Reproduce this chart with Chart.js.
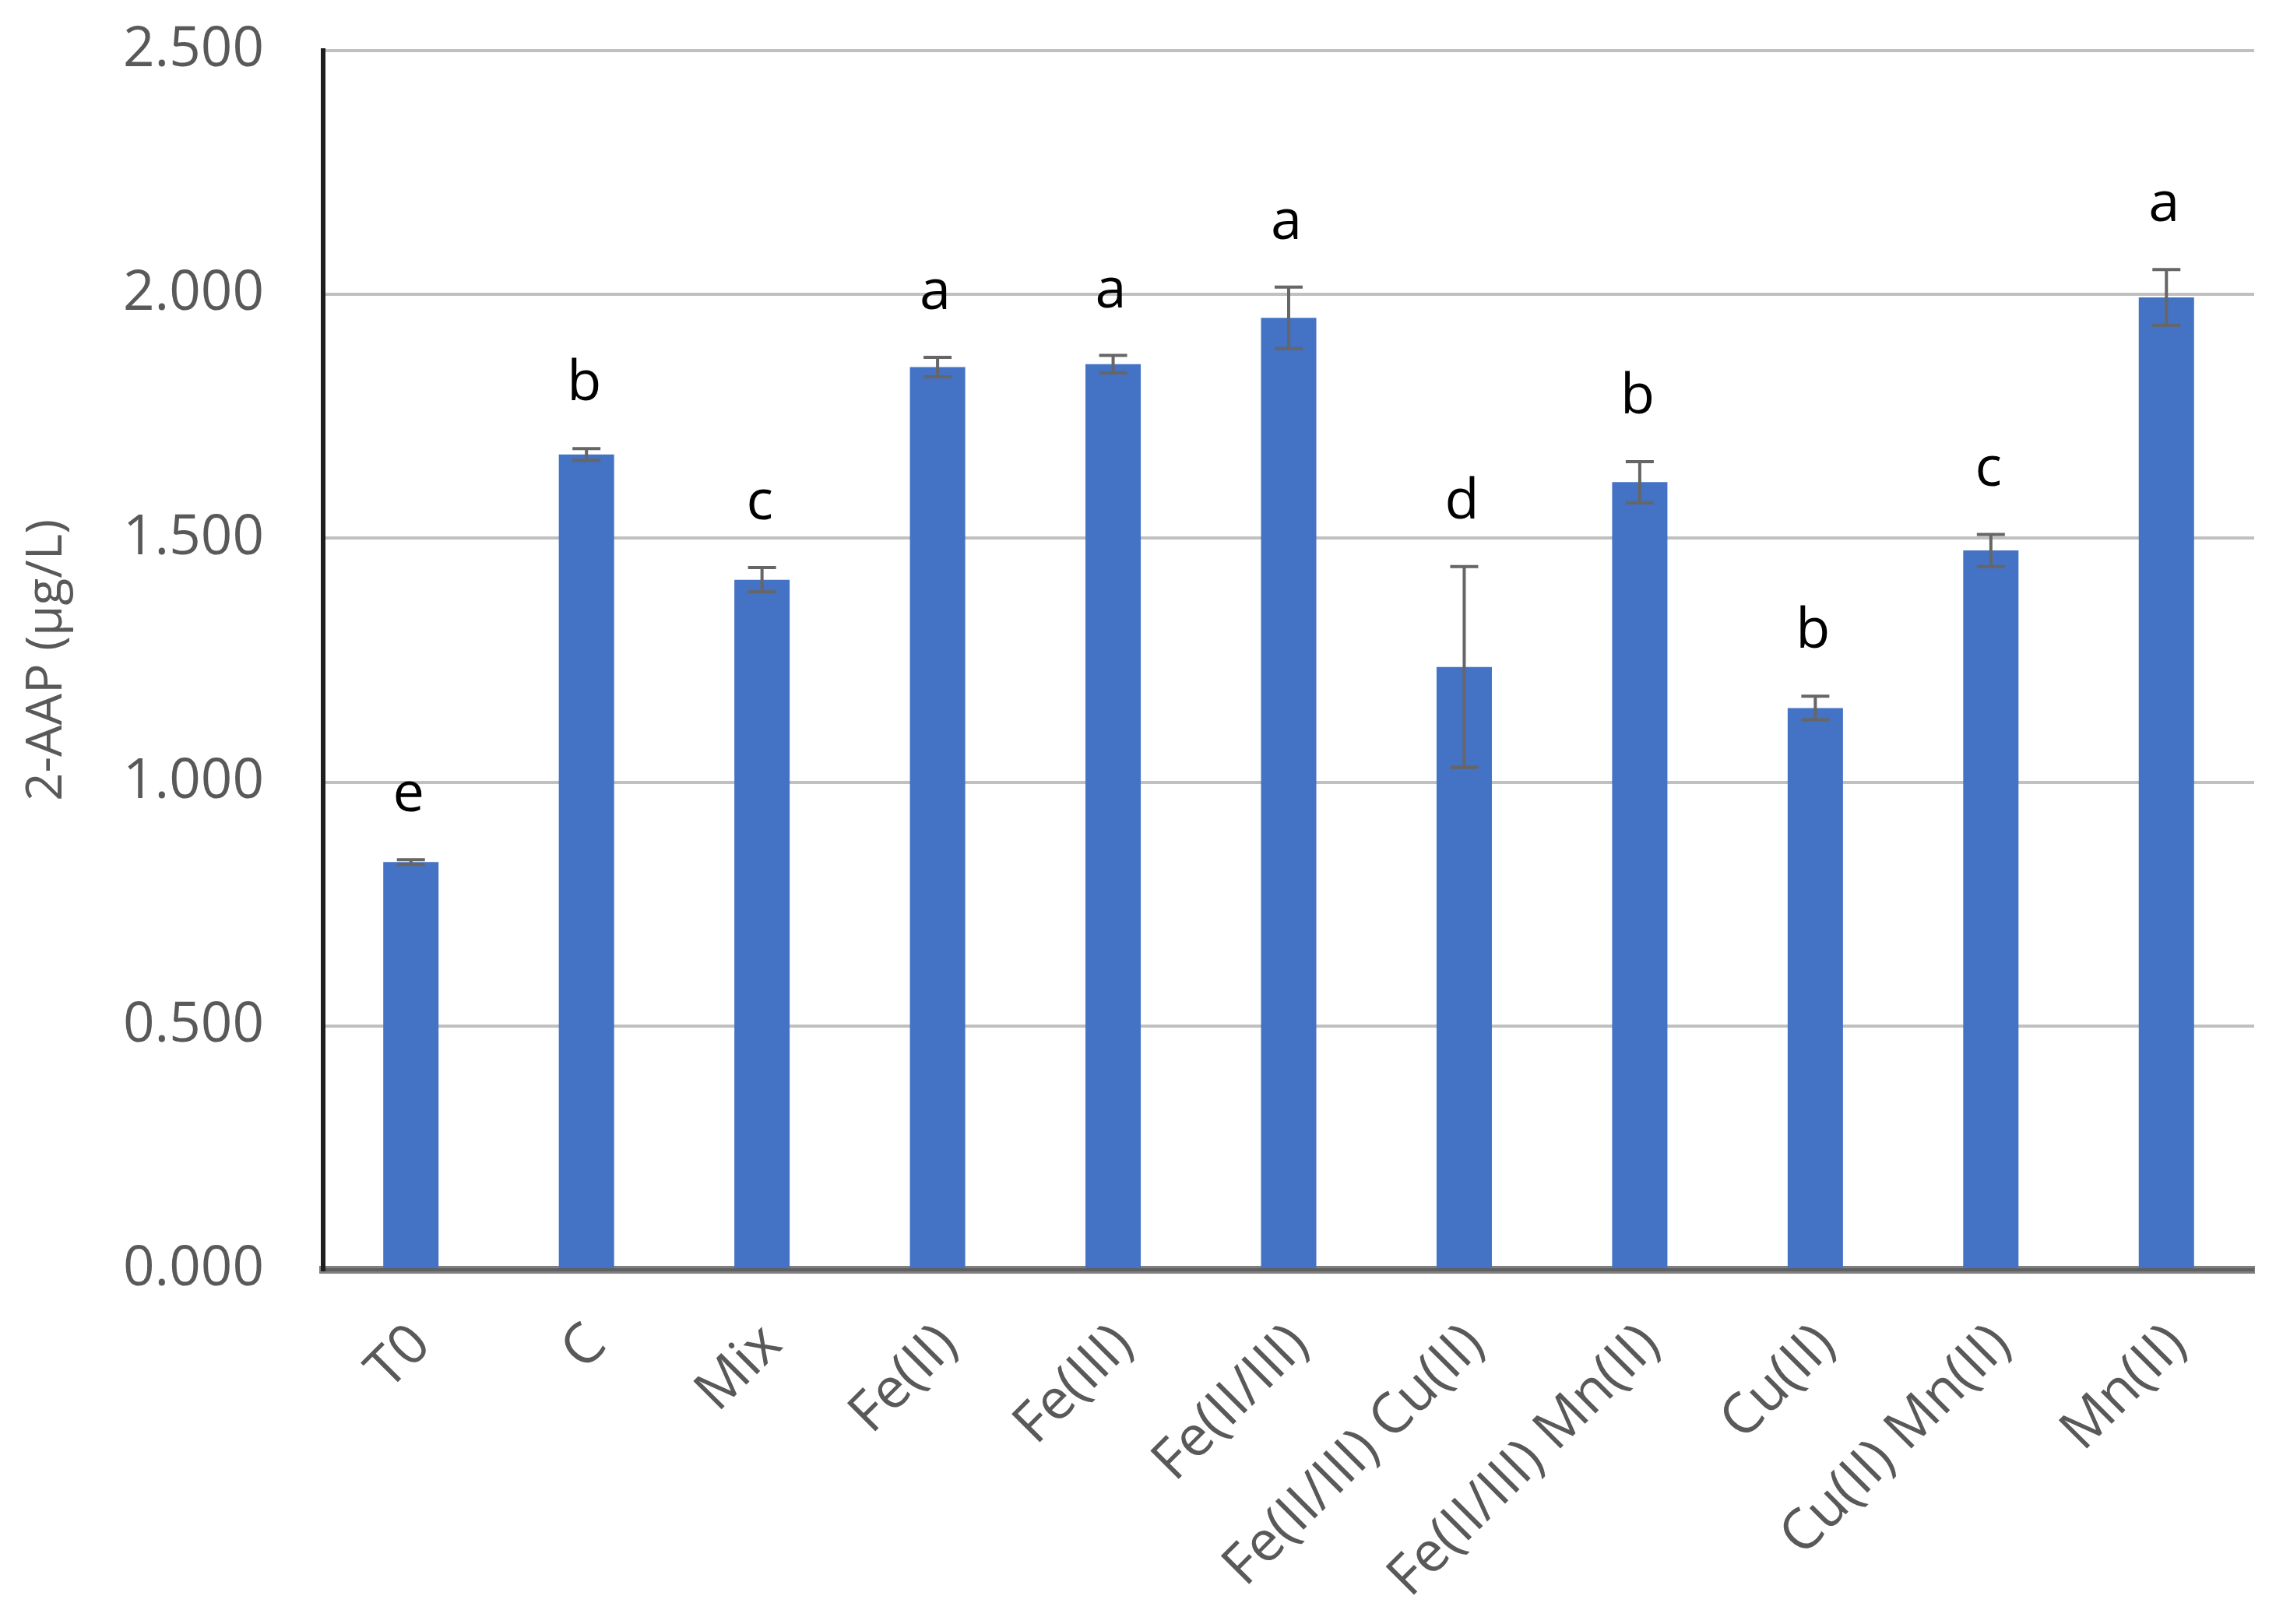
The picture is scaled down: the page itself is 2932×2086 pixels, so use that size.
<!DOCTYPE html>
<html>
<head>
<meta charset="utf-8">
<script src="https://cdn.jsdelivr.net/npm/chart.js@4.4.1/dist/chart.umd.min.js"></script>
<style>
  html, body { margin: 0; padding: 0; background: #ffffff; }
  #wrap { width: 2932px; height: 2086px; }
</style>
</head>
<body>
<div id="wrap"><canvas id="c" width="2932" height="2086"></canvas></div>
<script>
// ---- data ----
const categories = ["T0", "C", "Mix", "Fe(II)", "Fe(III)", "Fe(II/III)", "Fe(II/III) Cu(II)", "Fe(II/III) Mn(II)", "Cu(II)", "Cu(II) Mn(II)", "Mn(II)"];
const values = [0.836, 1.672, 1.415, 1.851, 1.857, 1.952, 1.236, 1.615, 1.152, 1.475, 1.994];
const errors = [0.005, 0.012, 0.025, 0.020, 0.018, 0.063, 0.206, 0.042, 0.024, 0.033, 0.057];
const letters = ["e", "b", "c", "a", "a", "a", "d", "b", "b", "c", "a"];
const yTicks = [0, 0.5, 1.0, 1.5, 2.0, 2.5];
const yTitle = "2-AAP (µg/L)";

const FONT = "'Open Sans', 'Noto Sans', sans-serif";

const errorBarsAndLetters = {
  id: 'errorBarsAndLetters',
  afterDatasetsDraw(chart) {
    const ctx = chart.ctx;
    const meta = chart.getDatasetMeta(0);
    const y = chart.scales.y;
    ctx.save();
    meta.data.forEach((bar, i) => {
      const x = bar.x;
      const top = y.getPixelForValue(values[i] + errors[i]);
      const bot = y.getPixelForValue(values[i] - errors[i]);
      ctx.strokeStyle = '#666666';
      ctx.lineWidth = 4;
      ctx.beginPath();
      ctx.moveTo(x, top); ctx.lineTo(x, bot);
      ctx.moveTo(x - 18, top); ctx.lineTo(x + 18, top);
      ctx.moveTo(x - 18, bot); ctx.lineTo(x + 18, bot);
      ctx.stroke();
      ctx.fillStyle = '#000000';
      ctx.font = "72px " + FONT;
      ctx.textAlign = 'center';
      ctx.textBaseline = 'alphabetic';
      ctx.fillText(letters[i], x - 3, top - 62);
    });
    ctx.restore();
  }
};

new Chart(document.getElementById('c'), {
  type: 'bar',
  data: {
    labels: categories,
    datasets: [{
      data: values,
      backgroundColor: '#4472C4',
      borderWidth: 0,
      categoryPercentage: 1.0,
      barPercentage: 0.315
    }]
  },
  options: {
    responsive: false,
    animation: false,
    devicePixelRatio: 1,
    layout: { padding: { top: 65, right: 37, left: 0, bottom: 0 } },
    plugins: { legend: { display: false }, tooltip: { enabled: false } },
    scales: {
      x: {
        z: 1,
        grid: { display: false, drawTicks: false },
        border: { display: true, color: 'rgba(0,0,0,0.5)', width: 10 },
        ticks: {
          color: '#595959',
          font: { family: FONT, size: 72 },
          minRotation: 45,
          maxRotation: 45,
          padding: 54,
          labelOffset: 14,
          autoSkip: false
        },
        afterFit(scale) { scale.height = 455; }
      },
      y: {
        min: 0,
        max: 2.5,
        afterBuildTicks(scale) { scale.ticks = yTicks.map(v => ({ value: v })); },
        grid: { color: '#c0c0c0', lineWidth: 4, drawTicks: true, tickLength: 66, tickColor: 'rgba(0,0,0,0)' },
        border: { display: true, color: '#1e1e1e', width: 6 },
        ticks: {
          color: '#595959',
          font: { family: FONT, size: 71 },
          padding: 10,
          callback: v => Number(v).toFixed(3)
        },
        title: {
          display: true,
          text: yTitle,
          color: '#595959',
          font: { family: FONT, size: 64 },
          padding: { top: 22, bottom: 0 }
        },
        afterFit(scale) { scale.width = 415; }
      }
    }
  },
  plugins: [errorBarsAndLetters]
});
</script>
</body>
</html>
